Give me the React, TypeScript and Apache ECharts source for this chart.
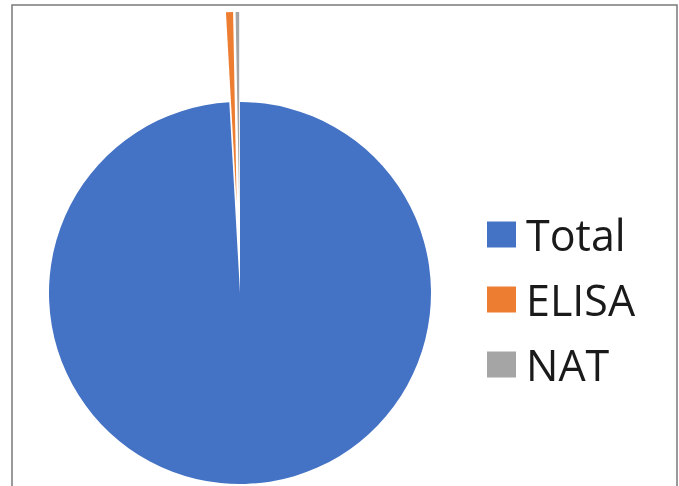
import React, { useEffect, useRef } from "react";
import * as echarts from "echarts";

const categories = ["Total", "ELISA", "NAT"];
const values = [1000, 6, 3];
const colors = ["#4472C4", "#ED7D31", "#A5A5A5"];
const exploded = [false, true, true];

export default function App() {
  const ref = useRef<HTMLDivElement>(null);
  useEffect(() => {
    if (!ref.current) return;
    const chart = echarts.init(ref.current, null, { renderer: "svg" });
    const data = categories.map((name, i) => ({
      name,
      value: values[i],
      selected: exploded[i],
      itemStyle: { color: colors[i] },
      select: { itemStyle: { color: colors[i], borderWidth: 0 } },
    }));
    chart.setOption({
      animation: false,
      graphic: [
        {
          type: "rect",
          shape: { x: 12, y: 5, width: 665, height: 520 },
          style: { fill: "none", stroke: "#7a7a7a", lineWidth: 1.5 },
          silent: true,
        },
      ],
      legend: {
        orient: "vertical",
        left: 482,
        top: 208,
        icon: "rect",
        itemWidth: 29,
        itemHeight: 26,
        itemGap: 22,
        selectedMode: false,
        textStyle: {
          fontFamily: "Open Sans, sans-serif",
          fontSize: 43,
          lineHeight: 30,
          color: "#1a1a1a",
          padding: [0, 0, 0, 5],
        },
        data: categories,
      },
      series: [
        {
          type: "pie",
          center: [240, 293],
          radius: [0, 191],
          startAngle: 90,
          clockwise: true,
          selectedMode: "multiple",
          selectedOffset: 90,
          avoidLabelOverlap: false,
          label: { show: false },
          labelLine: { show: false },
          emphasis: { disabled: true },
          itemStyle: { borderWidth: 0 },
          data,
        },
      ],
    });
    return () => chart.dispose();
  }, []);
  return (
    <div
      ref={ref}
      style={{ position: "fixed", left: 0, top: 0, width: 679, height: 486 }}
    />
  );
}
